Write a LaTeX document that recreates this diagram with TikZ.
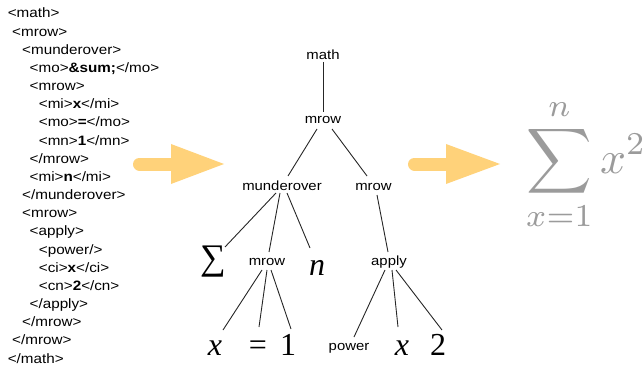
\documentclass[tikz,border=0pt]{standalone}
\usepackage{amsmath}
\usepackage{fontspec}
\newfontfamily\codefont[FakeStretch=1.12]{Liberation Sans}
\newfontfamily\serfont{Liberation Serif}
\usetikzlibrary{calc}
\definecolor{arrowc}{RGB}{255,210,122}
\definecolor{formc}{RGB}{155,155,155}
\begin{document}
\begin{tikzpicture}[x=1pt,y=-1pt,
  code/.style={font=\codefont\fontsize{13.6}{16}\selectfont, anchor=base west, inner sep=0pt},
  lab/.style={font=\codefont\fontsize{13.3}{16}\selectfont, anchor=base, inner sep=0pt},
  ser/.style={font=\serfont\fontsize{32}{36}\selectfont, anchor=base, inner sep=0pt},
  edge/.style={draw=black!85, line width=0.9pt},
  bigarrow/.style={fill=arrowc, draw=none}]
\useasboundingbox (0,0) rectangle (644,366);
% ---- code listing ----
\node[code] (c0)  at (7.6, 18.0)  {<math>};
\node[code] (c1)  at (12,  36.2)  {<mrow>};
\node[code] (c2)  at (22,  54.3)  {<munderover>};
\node[code] (c3)  at (29.5,72.5)  {<mo>\textbf{\&sum;}</mo>};
\node[code] (c4)  at (29.5,90.6)  {<mrow>};
\node[code] (c5)  at (38.7,108.8) {<mi>\textbf{x}</mi>};
\node[code] (c6)  at (38.7,127.0) {<mo>\textbf{=}</mo>};
\node[code] (c7)  at (38.7,145.1) {<mn>\textbf{1}</mn>};
\node[code] (c8)  at (29.5,163.3) {</mrow>};
\node[code] (c9)  at (29.5,181.4) {<mi>\textbf{n}</mi>};
\node[code] (c10) at (22,  199.6) {</munderover>};
\node[code] (c11) at (22,  217.8) {<mrow>};
\node[code] (c12) at (29.5,235.9) {<apply>};
\node[code] (c13) at (38.7,254.1) {<power/>};
\node[code] (c14) at (38.7,272.2) {<ci>\textbf{x}</ci>};
\node[code] (c15) at (38.7,290.4) {<cn>\textbf{2}</cn>};
\node[code] (c16) at (29.5,308.6) {</apply>};
\node[code] (c17) at (22,  326.7) {</mrow>};
\node[code] (c18) at (12,  344.9) {</mrow>};
\node[code] (c19) at (7.6, 363.0) {</math>};
% ---- arrows ----
\coordinate (a1s) at (139.5,164);
\coordinate (a1h) at (172,164);
\draw[arrowc, line width=13pt, line cap=round] (a1s) -- (a1h);
\fill[bigarrow] ($(a1h)+(-1,-20)$) -- ($(a1h)+(52,0)$) -- ($(a1h)+(-1,20)$) -- cycle;
\coordinate (a2s) at (414.5,164);
\coordinate (a2h) at (447,164);
\draw[arrowc, line width=13pt, line cap=round] (a2s) -- (a2h);
\fill[bigarrow] ($(a2h)+(-1,-20)$) -- ($(a2h)+(53,0)$) -- ($(a2h)+(-1,20)$) -- cycle;
% ---- tree ----
\node[lab] (math)  at (323,59.5) {math};
\node[lab] (mrowA) at (323,124)  {mrow};
\node[lab] (mu)    at (282,190)  {munderover};
\node[lab] (mrowB) at (373.5,190){mrow};
\node[ser, anchor=center, font=\serfont\fontsize{36}{40}\selectfont] (sig) at (213,262) {∑};
\node[lab] (mrowC) at (267,265)  {mrow};
\node[ser] (nn)    at (317,275)  {\itshape n};
\node[lab] (apply) at (389,265)  {apply};
\node[ser] (x1)    at (215,355)  {\itshape x};
\node[ser] (eq)    at (258,355)  {=};
\node[ser] (one)   at (288,355)  {1};
\node[lab] (power) at (349,350)  {power};
\node[ser] (x2)    at (402,355)  {\itshape x};
\node[ser] (two)   at (438,355)  {2};
\draw[edge] ($(math.base)+(0,2.5)$) -- ($(mrowA.base)+(0,-12)$);
\draw[edge] ($(mrowA.base)+(-6,5)$) -- ($(mu.base)+(6,-14)$);
\draw[edge] ($(mrowA.base)+(9,5)$) -- ($(mrowB.base)+(-6.5,-14)$);
\draw[edge] ($(mu.base)+(-6,3)$) -- ($(sig.center)+(12,-15)$);
\draw[edge] ($(mu.base)+(-2,3)$) -- ($(mrowC.base)+(2,-13)$);
\draw[edge] ($(mu.base)+(5,3)$) -- ($(nn.base)+(-7,-27)$);
\draw[edge] ($(mrowB.base)+(3.5,5)$) -- ($(apply.base)+(-1,-13)$);
\draw[edge] ($(mrowC.base)+(-5,5)$) -- ($(x1.base)+(8,-25)$);
\draw[edge] ($(mrowC.base)+(0,5)$) -- ($(eq.base)+(1,-28)$);
\draw[edge] ($(mrowC.base)+(4,5)$) -- ($(one.base)+(3,-26)$);
\draw[edge] ($(apply.base)+(-4,5)$) -- ($(power.base)+(5,-13)$);
\draw[edge] ($(apply.base)+(3,5)$) -- ($(x2.base)+(-4,-28)$);
\draw[edge] ($(apply.base)+(7,5)$) -- ($(two.base)+(4,-25)$);
% ---- rendered formula ----
\node[anchor=base west, inner sep=0pt, text=formc, scale=4.55,
      font=\fontsize{10}{12}\selectfont] (formula) at (525,173)
  {$\displaystyle\sum_{x=1}^{n} x^2$};
\end{tikzpicture}
\end{document}
